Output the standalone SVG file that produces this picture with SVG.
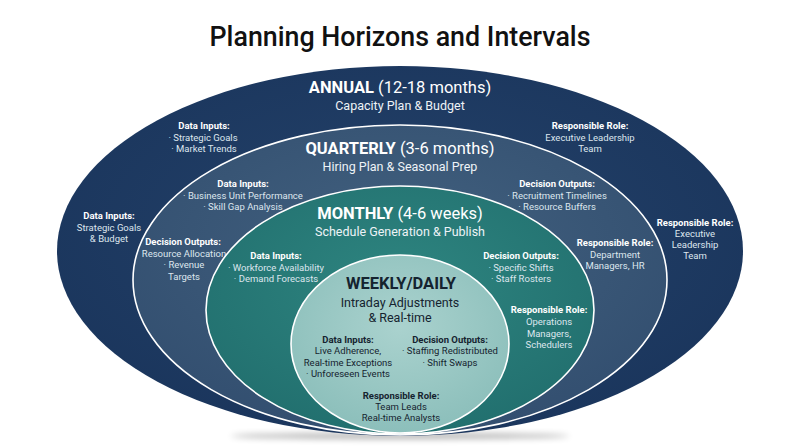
<svg xmlns="http://www.w3.org/2000/svg" width="800" height="447" viewBox="0 0 800 447">
<defs>
  <radialGradient id="gA" cx="50%" cy="45%" r="60%">
    <stop offset="0" stop-color="#24426a"/>
    <stop offset="1" stop-color="#1a355c"/>
  </radialGradient>
  <radialGradient id="gQ" cx="50%" cy="40%" r="60%">
    <stop offset="0" stop-color="#42617f"/>
    <stop offset="1" stop-color="#334f70"/>
  </radialGradient>
  <radialGradient id="gM" cx="50%" cy="40%" r="60%">
    <stop offset="0" stop-color="#2e8580"/>
    <stop offset="1" stop-color="#22706f"/>
  </radialGradient>
  <radialGradient id="gW" cx="50%" cy="40%" r="60%">
    <stop offset="0" stop-color="#aad2ce"/>
    <stop offset="1" stop-color="#8cbfbb"/>
  </radialGradient>
  <filter id="shadow" x="-20%" y="-200%" width="140%" height="500%">
    <feGaussianBlur stdDeviation="3"/>
  </filter>
  <style>
    text { font-family: Roboto, "Liberation Sans", Arial, sans-serif; text-anchor: middle; }
    .title { font-size: 26.8px; font-weight: 500; fill: #111111; }
    .big { font-size: 16.5px; fill: #ffffff; }
    .big tspan.b { font-weight: 700; }
    .sub { font-size: 12.5px; fill: #eef3f7; }
    .h { font-size: 9.5px; font-weight: 700; fill: #ffffff; }
    .t { font-size: 9.5px; fill: #dde6ee; }
    .dk { fill: #15232f; }
    .ring { stroke: #ffffff; stroke-width: 1.6; }
  </style>
</defs>

<text class="title" x="400" y="46">Planning Horizons and Intervals</text>

<ellipse cx="400" cy="436" rx="170" ry="3" fill="#000" opacity="0.3" filter="url(#shadow)"/>

<g id="annual">
  <ellipse cx="400" cy="251" rx="343" ry="185" fill="url(#gA)"/>
  <text class="big" x="400" y="93"><tspan class="b">ANNUAL</tspan> (12-18 months)</text>
  <text class="sub" x="400" y="110">Capacity Plan &amp; Budget</text>
  <text class="h" x="204" y="129">Data Inputs:</text>
  <text class="t" x="203" y="141">· Strategic Goals</text>
  <text class="t" x="204" y="152">· Market Trends</text>
  <text class="h" x="590" y="129">Responsible Role:</text>
  <text class="t" x="590" y="141">Executive Leadership</text>
  <text class="t" x="590" y="152">Team</text>
  <text class="h" x="109" y="219">Data Inputs:</text>
  <text class="t" x="109" y="231">Strategic Goals</text>
  <text class="t" x="109" y="242">&amp; Budget</text>
  <text class="h" x="695" y="226">Responsible Role:</text>
  <text class="t" x="695" y="237">Executive</text>
  <text class="t" x="695" y="248">Leadership</text>
  <text class="t" x="695" y="259">Team</text>
</g>

<g id="quarterly">
  <ellipse class="ring" cx="400" cy="280" rx="267" ry="155" fill="url(#gQ)"/>
  <text class="big" x="400" y="154"><tspan class="b">QUARTERLY</tspan> (3-6 months)</text>
  <text class="sub" x="400" y="171">Hiring Plan &amp; Seasonal Prep</text>
  <text class="h" x="243" y="187">Data Inputs:</text>
  <text class="t" x="243" y="199">· Business Unit Performance</text>
  <text class="t" x="243" y="210">· Skill Gap Analysis</text>
  <text class="h" x="557" y="187">Decision Outputs:</text>
  <text class="t" x="557" y="199">· Recruitment Timelines</text>
  <text class="t" x="557" y="210">· Resource Buffers</text>
  <text class="h" x="183" y="245">Decision Outputs:</text>
  <text class="t" x="184" y="257">Resource Allocation</text>
  <text class="t" x="184" y="268">· Revenue</text>
  <text class="t" x="184" y="280">Targets</text>
  <text class="h" x="615" y="246">Responsible Role:</text>
  <text class="t" x="615" y="258">Department</text>
  <text class="t" x="615" y="269">Managers, HR</text>
</g>

<g id="monthly">
  <ellipse class="ring" cx="400" cy="310" rx="194" ry="124" fill="url(#gM)"/>
  <text class="big" x="400" y="219"><tspan class="b">MONTHLY</tspan> (4-6 weeks)</text>
  <text class="sub" x="400" y="236">Schedule Generation &amp; Publish</text>
  <text class="h" x="276" y="259">Data Inputs:</text>
  <text class="t" x="276" y="271">· Workforce Availability</text>
  <text class="t" x="276" y="282">· Demand Forecasts</text>
  <text class="h" x="521" y="259">Decision Outputs:</text>
  <text class="t" x="521" y="271">· Specific Shifts</text>
  <text class="t" x="521" y="282">· Staff Rosters</text>
  <text class="h" x="549" y="313">Responsible Role:</text>
  <text class="t" x="549" y="325">Operations</text>
  <text class="t" x="549" y="337">Managers,</text>
  <text class="t" x="549" y="348">Schedulers</text>
</g>

<g id="weekly">
  <ellipse class="ring" cx="400" cy="344" rx="109" ry="89" fill="url(#gW)"/>
  <text class="big dk" x="401" y="289" font-weight="700">WEEKLY/DAILY</text>
  <text class="sub dk" x="400" y="307">Intraday Adjustments</text>
  <text class="sub dk" x="400" y="322">&amp; Real-time</text>
  <text class="h dk" x="348" y="343">Data Inputs:</text>
  <text class="t dk" x="348" y="354">Live Adherence,</text>
  <text class="t dk" x="348" y="366">Real-time Exceptions</text>
  <text class="t dk" x="348" y="377">· Unforeseen Events</text>
  <text class="h dk" x="450" y="343">Decision Outputs:</text>
  <text class="t dk" x="450" y="354">· Staffing Redistributed</text>
  <text class="t dk" x="450" y="366">· Shift Swaps</text>
  <text class="h dk" x="401" y="399">Responsible Role:</text>
  <text class="t dk" x="401" y="410">Team Leads</text>
  <text class="t dk" x="401" y="421">Real-time Analysts</text>
</g>

<g id="connectors"/>
</svg>
